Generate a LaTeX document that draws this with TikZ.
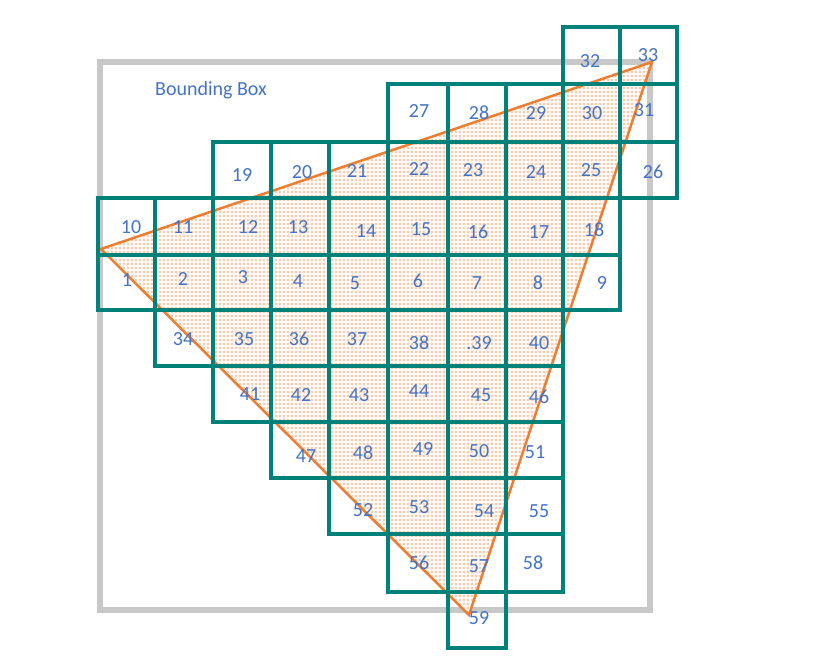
\documentclass[tikz,border=0pt]{standalone}
\usepackage{fontspec}
\setmainfont{Carlito}
\usetikzlibrary{patterns}
\definecolor{cellteal}{RGB}{0,130,122}
\definecolor{triorange}{RGB}{237,125,49}
\definecolor{boxgray}{RGB}{200,200,200}
\definecolor{labelblue}{RGB}{68,114,196}
\pgfdeclarepatternformonly{peachdots}{\pgfqpoint{-1pt}{-1pt}}{\pgfqpoint{1pt}{1pt}}{\pgfqpoint{4pt}{4pt}}{%
  \pgfpathcircle{\pgfqpoint{0pt}{0pt}}{0.8pt}\pgfusepath{fill}}
\begin{document}
\begin{tikzpicture}[x=1pt,y=-1pt,
  graybox/.style={draw=boxgray, line width=6pt},
  cellbox/.style={draw=cellteal, line width=4pt},
  triline/.style={draw=triorange, line width=2.5pt, line join=miter},
  tritint/.style={fill=triorange!6},
  trifill/.style={pattern=peachdots, pattern color=triorange!75},
  lbl/.style={text=labelblue, font=\fontsize{20}{24}\selectfont, inner sep=0pt}]
\useasboundingbox (0,0) rectangle (828,660);
% bounding box
\draw[graybox] (99.5,62) rectangle (650,610);
% triangle
\coordinate (A) at (101,249);
\coordinate (B) at (652,62);
\coordinate (C) at (469,615);
\fill[tritint] (A) -- (B) -- (C) -- cycle;
\fill[trifill] (A) -- (B) -- (C) -- cycle;
\draw[triline] (A) -- (B) -- (C) -- cycle;
% cells
\foreach \r/\cs/\ce in {0/8/9, 1/5/9, 2/2/9, 3/0/8, 4/0/8, 5/1/7, 6/2/7, 7/3/7, 8/4/7, 9/5/7, 10/6/6} {
  \foreach \c in {\cs,...,\ce} {
    \pgfmathsetmacro\xa{{98,155,213,271,329,388,448,506,563,620,677}[\c]}
    \pgfmathsetmacro\xb{{98,155,213,271,329,388,448,506,563,620,677}[\c+1]}
    \pgfmathsetmacro\ya{{27,84,142,198,255,310,366,422,478,534,592,648}[\r]}
    \pgfmathsetmacro\yb{{27,84,142,198,255,310,366,422,478,534,592,648}[\r+1]}
    \draw[cellbox] (\xa,\ya) rectangle (\xb,\yb);
  }
}
% labels
\node[lbl] (nbb) at (211,90) {Bounding Box};
\foreach \n/\t/\x/\y in {
  10/10/131/227, 11/11/183/227, 12/12/248/227, 13/13/298/227, 14/14/366/231,
  15/15/421/229, 16/16/478/232, 17/17/539/232, 18/18/594/230,
  1/1/127/280, 2/2/183/279, 3/3/243/277, 4/4/298/281, 5/5/355/283,
  6/6/418/281, 7/7/477/283, 8/8/538/283, 9/9/602/283,
  34/34/183/339, 35/35/244/339, 36/36/299/339, 37/37/357/339,
  38/38/419/343, 39/.39/479/343, 40/40/539/343,
  41/41/250/394, 42/42/301/395, 43/43/359/395, 44/44/419/391,
  45/45/481/395, 46/46/539/397,
  47/47/306/456, 48/48/363/453, 49/49/423/449, 50/50/479/451, 51/51/535/452,
  52/52/363/510, 53/53/419/507, 54/54/484/511, 55/55/539/511,
  56/56/419/563, 57/57/479/566, 58/58/533/563,
  59/59/479/618,
  19/19/242/175, 20/20/302/172, 21/21/357/171, 22/22/419/169,
  23/23/473/170, 24/24/536/172, 25/25/591/170, 26/26/653/172,
  27/27/419/111, 28/28/479/113, 29/29/536/113, 30/30/592/113, 31/31/644/110,
  32/32/590/61, 33/33/648/55}
  \node[lbl] (n\n) at (\x,\y) {\t};
\end{tikzpicture}
\end{document}
